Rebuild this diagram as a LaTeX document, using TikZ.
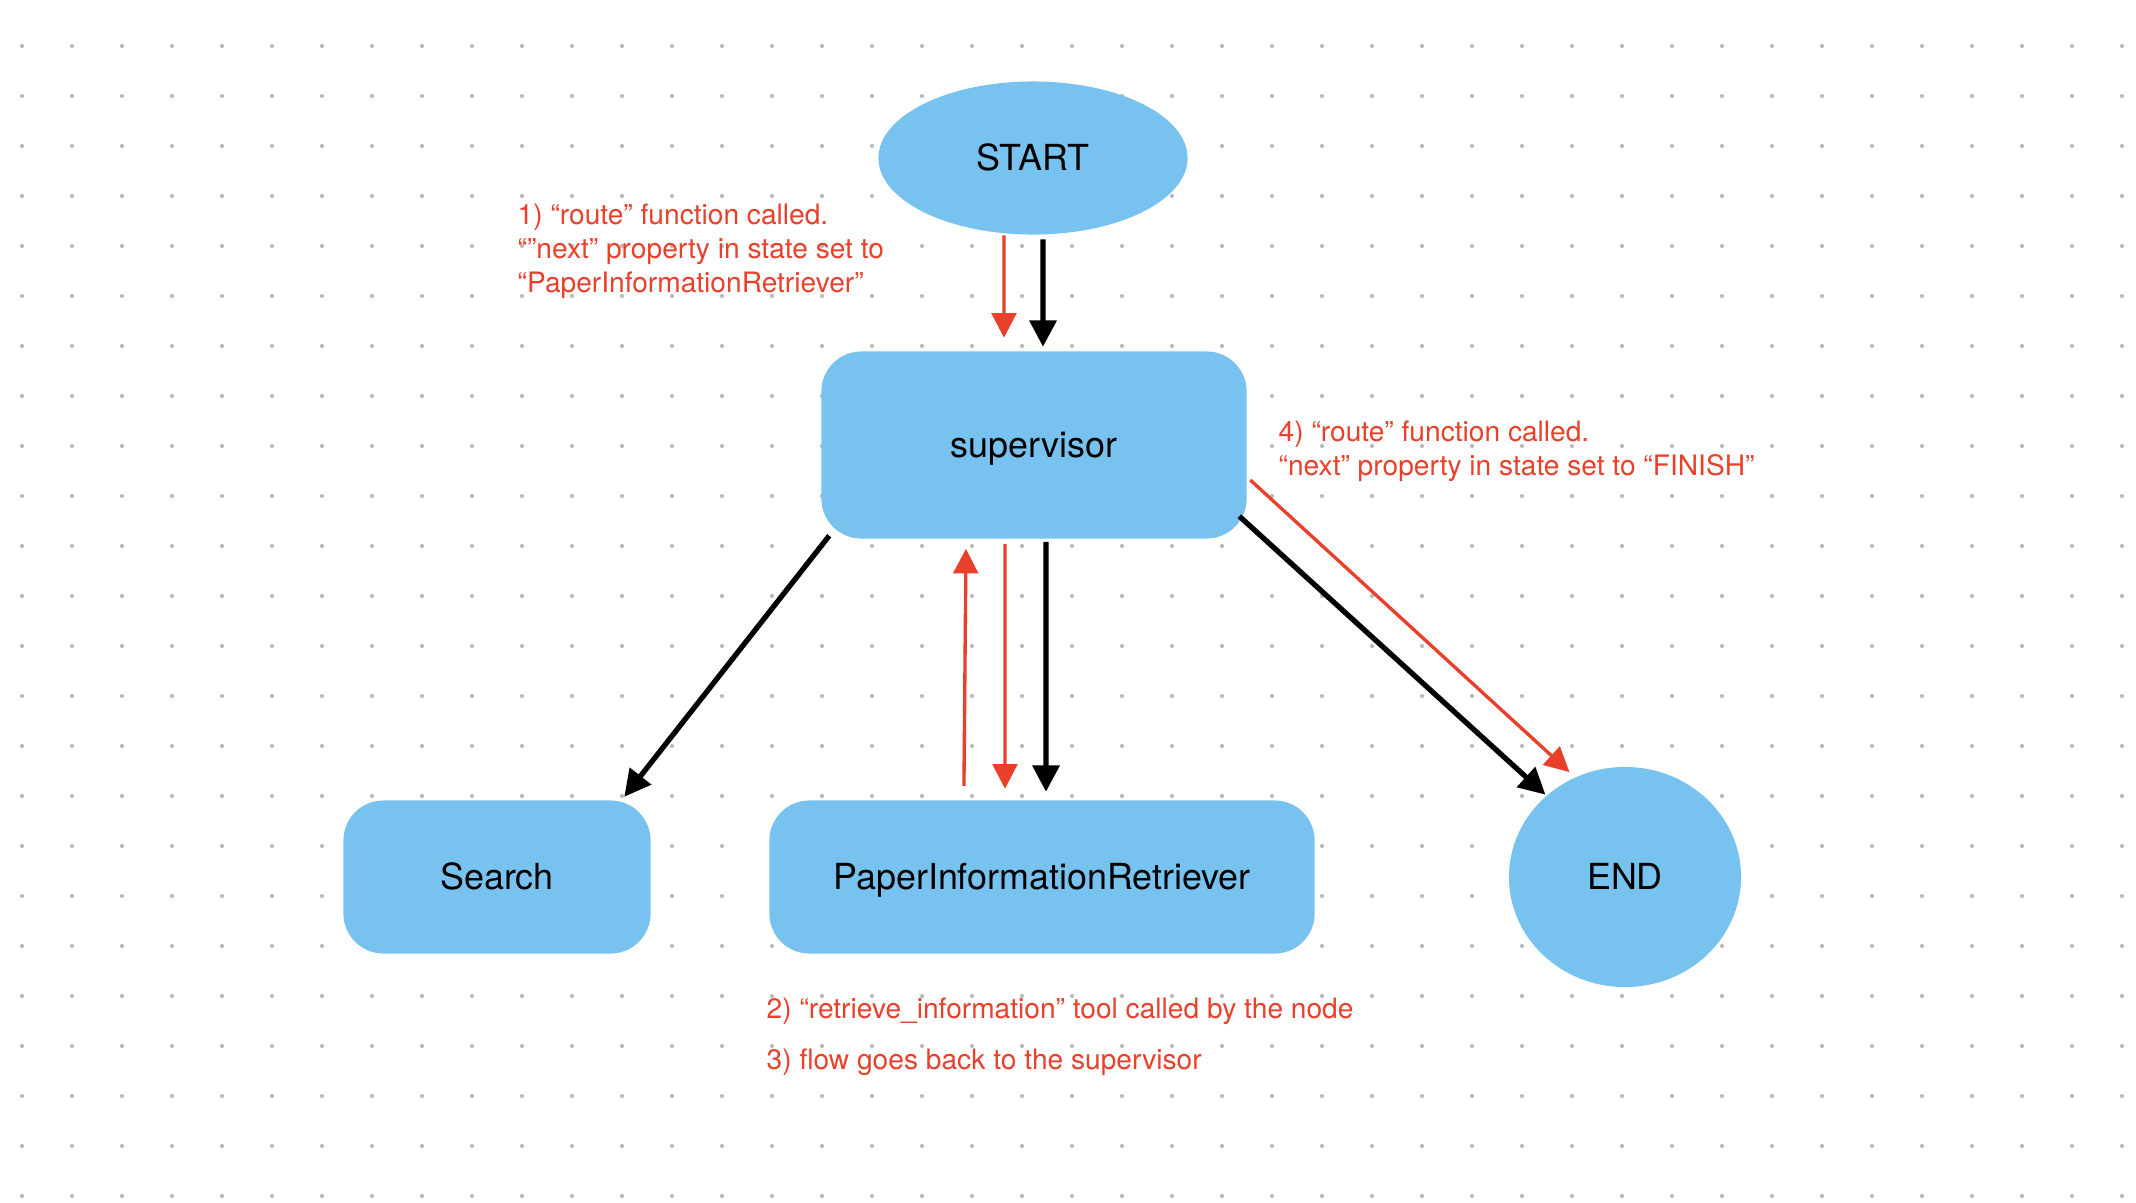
\documentclass[tikz,border=0pt]{standalone}
\usepackage{fontspec}
\setmainfont{TeX Gyre Heros}
\usetikzlibrary{shapes.geometric,arrows.meta}
\definecolor{nodeblue}{HTML}{78C2EF}
\definecolor{notered}{HTML}{E8402A}
\definecolor{dotgray}{HTML}{BBBBBB}
\begin{document}
\begin{tikzpicture}[x=0.01cm,y=-0.01cm,
  state/.style={fill=nodeblue,rounded corners=0.4cm,minimum height=1.53cm,inner sep=0,text height=0.72em,text depth=0pt,font=\fontsize{10.2}{12}\selectfont},
  oval/.style={ellipse,fill=nodeblue,inner sep=0,text height=0.72em,text depth=0pt,font=\fontsize{10.2}{12}\selectfont},
  note/.style={anchor=west,align=left,inner sep=0,text=notered,font=\fontsize{8}{9.7}\selectfont},
  blackarrow/.style={->,>={Triangle[length=7.5pt,width=7.5pt]},line width=1.5pt},
  redarrow/.style={->,>={Triangle[length=7pt,width=7pt]},line width=0.95pt,notered}]
  \fill[white] (0,0) rectangle (2136,1202);
  \useasboundingbox (0,0) rectangle (2136,1202);
  % dot grid
  \foreach \i in {0,...,42}
    \foreach \j in {0,...,23}
      \fill[dotgray] (22+50*\i,46+50*\j) circle (0.6pt);
  % nodes
  \node[oval,minimum width=3.09cm,minimum height=1.53cm] (start) at (1033,158) {START};
  \node[state,minimum width=4.25cm,minimum height=1.87cm] (sup) at (1034,445) {supervisor};
  \node[state,minimum width=3.07cm] (search) at (497,877) {Search};
  \node[state,minimum width=5.45cm] (pir) at (1042,877) {PaperInformationRetriever};
  \node[oval,minimum width=2.32cm,minimum height=2.20cm] (endn) at (1625,877) {END};
  % notes
  \node[note] (n1) at (517,251) {1) “route” function called.\\“”next” property in state set to\\“PaperInformationRetriever”};
  \node[note] (n4) at (1278,451) {4) “route” function called.\\“next” property in state set to “FINISH”};
  \node[note] (n2) at (766,1011) {2) “retrieve\_information” tool called by the node};
  \node[note] (n3) at (766,1062) {3) flow goes back to the supervisor};
  % edges
  \draw[redarrow] ([xshift=-0.29cm]start.south) -- ([xshift=-0.30cm,yshift=0.13cm]sup.north);
  \draw[blackarrow] ([xshift=0.10cm,yshift=-0.04cm]start.south) -- ([xshift=0.09cm,yshift=0.04cm]sup.north);
  \draw[blackarrow] ([xshift=0.085cm,yshift=0.035cm]sup.south west) -- ([xshift=-0.27cm,yshift=0.03cm]search.north east);
  \draw[redarrow] ([xshift=-0.78cm,yshift=0.14cm]pir.north) -- ([xshift=-0.68cm,yshift=-0.095cm]sup.south);
  \draw[redarrow] ([xshift=-0.29cm,yshift=-0.045cm]sup.south) -- ([xshift=-0.37cm,yshift=0.11cm]pir.north);
  \draw[blackarrow] ([xshift=0.12cm,yshift=-0.025cm]sup.south) -- ([xshift=0.04cm,yshift=0.08cm]pir.north);
  \draw[blackarrow] ([xshift=-0.08cm,yshift=0.23cm]sup.south east) -- ([xshift=0.03cm,yshift=0.04cm]endn.north west);
  \draw[redarrow] ([xshift=0.03cm,yshift=-0.35cm]sup.east) -- ([xshift=-0.03cm,yshift=0.06cm]endn.118);
\end{tikzpicture}
\end{document}
